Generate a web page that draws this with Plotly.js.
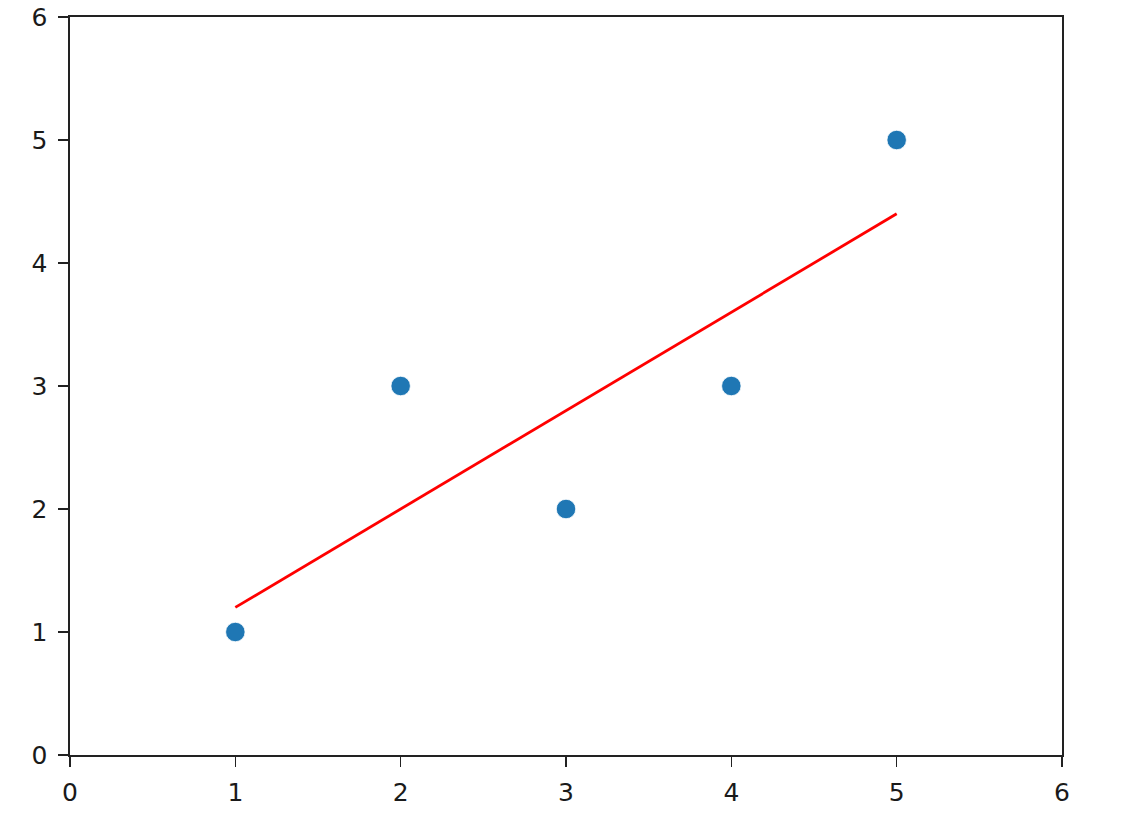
<!DOCTYPE html>
<html>
<head>
<meta charset="utf-8">
<script src="https://cdn.plot.ly/plotly-3.0.1.min.js"></script>
<style>html,body{margin:0;padding:0;background:#fff;}#chart{width:1123px;height:825px;}</style>
</head>
<body>
<div id="chart"></div>
<script>
const xPoints = [1, 2, 3, 4, 5];
const yPoints = [1, 3, 2, 3, 5];
const xFit = [1, 5];
const yFit = [1.2, 4.4];
const tickVals = [0, 1, 2, 3, 4, 5, 6];

const axisCommon = {
  range: [0, 6],
  tickvals: tickVals,
  ticktext: tickVals.map(String),
  ticks: 'outside',
  ticklen: 10,
  tickwidth: 1.5,
  tickcolor: '#222',
  showline: true,
  linecolor: '#222',
  linewidth: 1.6,
  mirror: true,
  showgrid: false,
  zeroline: false,
  tickfont: {family: 'DejaVu Sans', size: 25, color: '#1a1a1a'},
  fixedrange: true
};

Plotly.newPlot('chart', [
  {
    x: xPoints, y: yPoints, type: 'scatter', mode: 'markers',
    marker: {color: '#1f77b4', size: 19.5, line: {color: '#ffffff', width: 0.8}},
    showlegend: false, hoverinfo: 'skip'
  },
  {
    x: xFit, y: yFit, type: 'scatter', mode: 'lines',
    line: {color: '#ff0000', width: 2.8},
    showlegend: false, hoverinfo: 'skip'
  }
], {
  width: 1123, height: 825,
  margin: {l: 70, r: 61, t: 17, b: 70},
  paper_bgcolor: '#fff', plot_bgcolor: '#fff',
  xaxis: Object.assign({}, axisCommon, {ticklabelstandoff: 4}),
  yaxis: Object.assign({}, axisCommon, {ticklabelstandoff: 6}),
  showlegend: false
}, {displayModeBar: false, staticPlot: true});
</script>
</body>
</html>
